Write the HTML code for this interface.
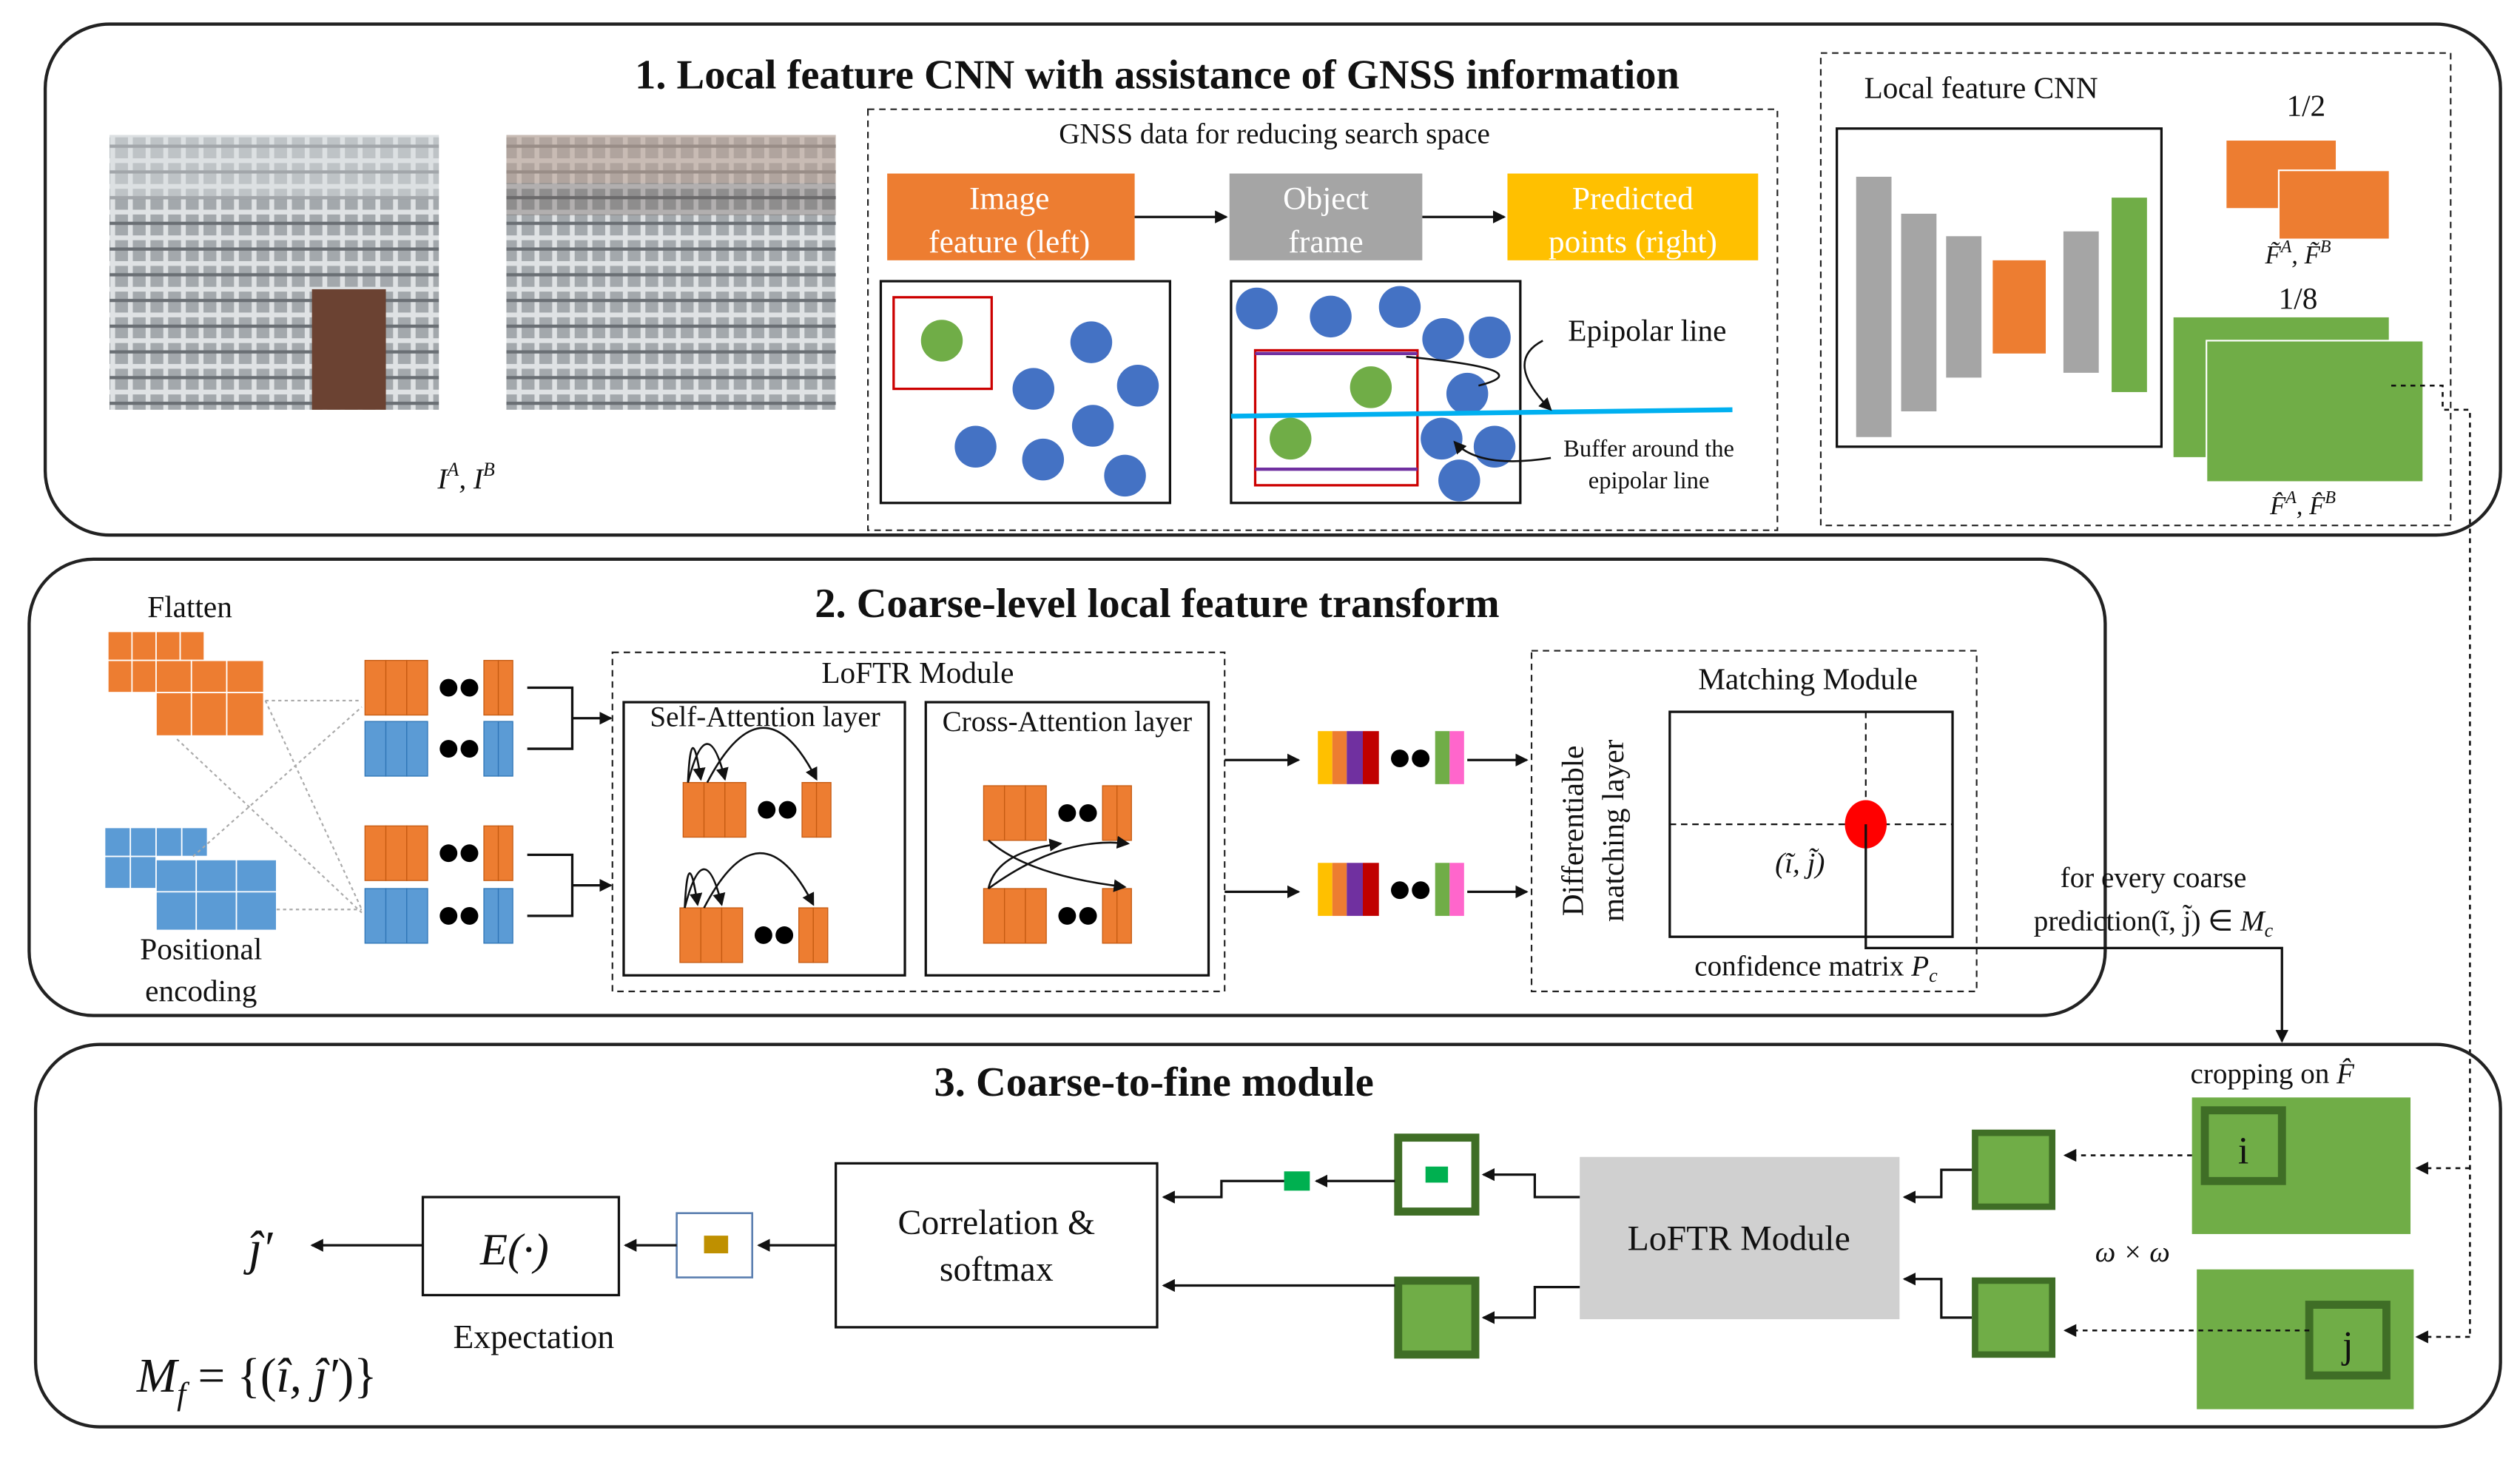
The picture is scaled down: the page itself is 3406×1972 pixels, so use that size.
<!DOCTYPE html>
<html><head><meta charset="utf-8"><style>
html,body{margin:0;padding:0;background:#fff;}
svg{display:block;}
text{font-family:"Liberation Serif",serif;fill:#111;}
</style></head><body>
<svg width="3406" height="1972" viewBox="0 0 1568 908" xmlns="http://www.w3.org/2000/svg">
<defs>
<marker id="a" markerWidth="8" markerHeight="8" refX="7" refY="4" orient="auto" markerUnits="userSpaceOnUse"><path d="M0,0 L8,4 L0,8 z" fill="#111"/></marker>
<pattern id="ph" width="22" height="16" patternUnits="userSpaceOnUse"><rect width="22" height="16" fill="#a3a8ac"/><path d="M0,4 H22 M4,0 V16 M15,0 V16" stroke="#dfe2e4" stroke-width="3"/><path d="M0,11 H22" stroke="#6a6f74" stroke-width="2"/></pattern>
<g id="seq3"><rect x="0" y="0" width="13" height="34"/><rect x="13" y="0" width="13" height="34"/><rect x="26" y="0" width="13" height="34"/><circle cx="52" cy="17" r="5.5" fill="#000" stroke="none"/><circle cx="65" cy="17" r="5.5" fill="#000" stroke="none"/><rect x="74" y="0" width="9" height="34"/><rect x="83" y="0" width="9" height="34"/></g>
</defs>

<!-- Section 1 -->
<rect x="28" y="15" width="1528" height="318" rx="40" fill="none" stroke="#222" stroke-width="2"/>
<text x="720" y="55" font-size="26" font-weight="bold" text-anchor="middle">1. Local feature CNN with assistance of GNSS information</text>
<rect x="68" y="84" width="205" height="171" fill="url(#ph)"/>
<rect x="68" y="84" width="205" height="40" fill="#d9dde0" opacity="0.5"/>
<rect x="194" y="180" width="46" height="75" fill="#6b4232"/>
<rect x="315" y="84" width="205" height="171" fill="url(#ph)"/>
<rect x="315" y="84" width="205" height="30" fill="#b9a295" opacity="0.6"/>
<rect x="315" y="114" width="205" height="20" fill="#6f6360" opacity="0.4"/>
<text x="290" y="304" font-size="18" font-style="italic" text-anchor="middle">I<tspan font-size="12" dy="-8">A</tspan><tspan dy="8">, I</tspan><tspan font-size="12" dy="-8">B</tspan></text>

<rect x="540" y="68" width="566" height="262" fill="none" stroke="#222" stroke-dasharray="4,3"/>
<text x="793" y="89" font-size="18" text-anchor="middle">GNSS data for reducing search space</text>
<rect x="552" y="108" width="154" height="54" fill="#ed7d31"/>
<text x="628" y="130" font-size="20" text-anchor="middle" style="fill:#fff">Image</text>
<text x="628" y="157" font-size="20" text-anchor="middle" style="fill:#fff">feature (left)</text>
<rect x="765" y="108" width="120" height="54" fill="#a5a5a5"/>
<text x="825" y="130" font-size="20" text-anchor="middle" style="fill:#fff">Object</text>
<text x="825" y="157" font-size="20" text-anchor="middle" style="fill:#fff">frame</text>
<rect x="938" y="108" width="156" height="54" fill="#ffc000"/>
<text x="1016" y="130" font-size="20" text-anchor="middle" style="fill:#fff">Predicted</text>
<text x="1016" y="157" font-size="20" text-anchor="middle" style="fill:#fff">points (right)</text>
<line x1="706" y1="135" x2="763" y2="135" stroke="#111" stroke-width="1.5" marker-end="url(#a)"/>
<line x1="885" y1="135" x2="936" y2="135" stroke="#111" stroke-width="1.5" marker-end="url(#a)"/>

<rect x="548" y="175" width="180" height="138" fill="#fff" stroke="#111" stroke-width="1.5"/>
<rect x="556" y="185" width="61" height="57" fill="none" stroke="#c00" stroke-width="1.5"/>
<circle cx="586" cy="212" r="13" fill="#70ad47"/>
<g fill="#4472c4"><circle cx="679" cy="213" r="13"/><circle cx="643" cy="242" r="13"/><circle cx="708" cy="240" r="13"/><circle cx="680" cy="265" r="13"/><circle cx="607" cy="278" r="13"/><circle cx="649" cy="286" r="13"/><circle cx="700" cy="296" r="13"/></g>

<rect x="766" y="175" width="180" height="138" fill="#fff" stroke="#111" stroke-width="1.5"/>
<g fill="#4472c4"><circle cx="782" cy="192" r="13"/><circle cx="828" cy="197" r="13"/><circle cx="871" cy="191" r="13"/><circle cx="898" cy="211" r="13"/><circle cx="927" cy="210" r="13"/><circle cx="913" cy="245" r="13"/><circle cx="897" cy="273" r="13"/><circle cx="930" cy="278" r="13"/><circle cx="908" cy="299" r="13"/></g>
<rect x="781" y="218" width="101" height="84" fill="none" stroke="#c00" stroke-width="1.5"/>
<line x1="781" y1="220" x2="882" y2="220" stroke="#7030a0" stroke-width="2"/>
<line x1="781" y1="292" x2="882" y2="292" stroke="#7030a0" stroke-width="2"/>
<line x1="766" y1="259" x2="1078" y2="255" stroke="#00b0f0" stroke-width="3"/>
<circle cx="853" cy="241" r="13" fill="#70ad47"/><circle cx="803" cy="273" r="13" fill="#70ad47"/>
<text x="1025" y="212" font-size="19" text-anchor="middle">Epipolar line</text>
<text x="1026" y="284" font-size="15" text-anchor="middle">Buffer around the</text>
<text x="1026" y="304" font-size="15" text-anchor="middle">epipolar line</text>
<path d="M960,212 Q935,225 965,255" fill="none" stroke="#111" stroke-width="1.2" marker-end="url(#a)"/>
<path d="M875,222 Q960,230 920,240" fill="none" stroke="#111" stroke-width="1.2"/>
<path d="M965,285 Q920,292 905,275" fill="none" stroke="#111" stroke-width="1.2" marker-end="url(#a)"/>

<rect x="1133" y="33" width="392" height="294" fill="none" stroke="#222" stroke-dasharray="4,3"/>
<text x="1160" y="61" font-size="19">Local feature CNN</text>
<rect x="1143" y="80" width="202" height="198" fill="#fff" stroke="#111" stroke-width="1.5"/>
<rect x="1155" y="110" width="22" height="162" fill="#a5a5a5"/>
<rect x="1183" y="133" width="22" height="123" fill="#a5a5a5"/>
<rect x="1211" y="147" width="22" height="88" fill="#a5a5a5"/>
<rect x="1240" y="162" width="33" height="58" fill="#ed7d31"/>
<rect x="1284" y="144" width="22" height="88" fill="#a5a5a5"/>
<rect x="1314" y="123" width="22" height="121" fill="#70ad47"/>
<text x="1435" y="72" font-size="19" text-anchor="middle">1/2</text>
<rect x="1385" y="87" width="69" height="43" fill="#ed7d31" stroke="#fff"/>
<rect x="1418" y="106" width="69" height="43" fill="#ed7d31" stroke="#fff"/>
<text x="1430" y="164" font-size="16" font-style="italic" text-anchor="middle">F̃<tspan font-size="11" dy="-7">A</tspan><tspan dy="7">, F̃</tspan><tspan font-size="11" dy="-7">B</tspan></text>
<text x="1430" y="192" font-size="19" text-anchor="middle">1/8</text>
<rect x="1352" y="197" width="135" height="88" fill="#70ad47" stroke="#fff"/>
<rect x="1373" y="212" width="135" height="88" fill="#70ad47" stroke="#fff"/>
<text x="1433" y="320" font-size="16" font-style="italic" text-anchor="middle">F̂<tspan font-size="11" dy="-7">A</tspan><tspan dy="7">, F̂</tspan><tspan font-size="11" dy="-7">B</tspan></text>
<path d="M1488,240 H1520 V255 H1537 V832" fill="none" stroke="#111" stroke-width="1.2" stroke-dasharray="3,3"/>
<line x1="1537" y1="727" x2="1504" y2="727" stroke="#111" stroke-width="1.2" stroke-dasharray="3,3" marker-end="url(#a)"/>
<line x1="1537" y1="832" x2="1504" y2="832" stroke="#111" stroke-width="1.2" stroke-dasharray="3,3" marker-end="url(#a)"/>

<!-- Section 2 -->
<rect x="18" y="348" width="1292" height="284" rx="40" fill="none" stroke="#222" stroke-width="2"/>
<text x="720" y="384" font-size="26" font-weight="bold" text-anchor="middle">2. Coarse-level local feature transform</text>
<text x="118" y="384" font-size="19" text-anchor="middle">Flatten</text>
<g fill="#ed7d31" stroke="#fff" stroke-width="0.8">
<rect x="67" y="393" width="15" height="18"/><rect x="82" y="393" width="15" height="18"/><rect x="97" y="393" width="15" height="18"/><rect x="112" y="393" width="15" height="18"/>
<rect x="67" y="411" width="15" height="20"/><rect x="82" y="411" width="15" height="20"/>
<rect x="97" y="411" width="22" height="20"/><rect x="119" y="411" width="22" height="20"/><rect x="141" y="411" width="23" height="20"/>
<rect x="97" y="431" width="22" height="27"/><rect x="119" y="431" width="22" height="27"/><rect x="141" y="431" width="23" height="27"/>
</g>
<g fill="#5b9bd5" stroke="#fff" stroke-width="0.8">
<rect x="65" y="515" width="16" height="18"/><rect x="81" y="515" width="16" height="18"/><rect x="97" y="515" width="16" height="18"/><rect x="113" y="515" width="16" height="18"/>
<rect x="65" y="533" width="16" height="20"/><rect x="81" y="533" width="16" height="20"/>
<rect x="97" y="535" width="25" height="20"/><rect x="122" y="535" width="25" height="20"/><rect x="147" y="535" width="25" height="20"/>
<rect x="97" y="555" width="25" height="24"/><rect x="122" y="555" width="25" height="24"/><rect x="147" y="555" width="25" height="24"/>
</g>
<g stroke="#aaa" stroke-dasharray="2,2" stroke-width="1">
<line x1="165" y1="436" x2="225" y2="436"/><line x1="165" y1="436" x2="225" y2="566"/><line x1="110" y1="460" x2="225" y2="568"/>
<line x1="172" y1="566" x2="225" y2="566"/><line x1="120" y1="533" x2="225" y2="440"/>
</g>
<text x="125" y="597" font-size="19" text-anchor="middle">Positional</text>
<text x="125" y="623" font-size="19" text-anchor="middle">encoding</text>
<g fill="#ed7d31" stroke="#c55a11" stroke-width="0.6"><use href="#seq3" x="227" y="411"/><use href="#seq3" x="227" y="514"/></g>
<g fill="#5b9bd5" stroke="#2e75b6" stroke-width="0.6"><use href="#seq3" x="227" y="449"/><use href="#seq3" x="227" y="553"/></g>
<g fill="none" stroke="#111" stroke-width="1.5">
<path d="M328,428 H356 V466 H328"/><path d="M328,532 H356 V570 H328"/>
</g>
<line x1="356" y1="447" x2="380" y2="447" stroke="#111" stroke-width="1.5" marker-end="url(#a)"/>
<line x1="356" y1="551" x2="380" y2="551" stroke="#111" stroke-width="1.5" marker-end="url(#a)"/>

<rect x="381" y="406" width="381" height="211" fill="none" stroke="#222" stroke-dasharray="4,3"/>
<text x="571" y="425" font-size="19" text-anchor="middle">LoFTR Module</text>
<rect x="388" y="437" width="175" height="170" fill="none" stroke="#111" stroke-width="1.5"/>
<rect x="576" y="437" width="176" height="170" fill="none" stroke="#111" stroke-width="1.5"/>
<text x="476" y="452" font-size="18" text-anchor="middle">Self-Attention layer</text>
<text x="664" y="455" font-size="18" text-anchor="middle">Cross-Attention layer</text>
<g fill="#ed7d31" stroke="#c55a11" stroke-width="0.6"><use href="#seq3" x="425" y="487"/><use href="#seq3" x="423" y="565"/><use href="#seq3" x="612" y="489"/><use href="#seq3" x="612" y="553"/></g>
<g fill="none" stroke="#111" stroke-width="1.2">
<path d="M428,487 Q430,445 436,485" marker-end="url(#a)"/><path d="M428,487 Q440,440 451,485" marker-end="url(#a)"/><path d="M440,487 Q475,420 508,485" marker-end="url(#a)"/>
<path d="M426,565 Q428,523 434,563" marker-end="url(#a)"/><path d="M426,565 Q438,518 449,563" marker-end="url(#a)"/><path d="M438,565 Q473,498 506,563" marker-end="url(#a)"/>
<path d="M615,553 Q620,530 660,525" marker-end="url(#a)"/><path d="M615,553 Q660,520 702,525" marker-end="url(#a)"/>
<path d="M615,523 Q640,545 700,552" marker-end="url(#a)"/>
</g>
<line x1="762" y1="473" x2="808" y2="473" stroke="#111" stroke-width="1.5" marker-end="url(#a)"/>
<line x1="762" y1="555" x2="808" y2="555" stroke="#111" stroke-width="1.5" marker-end="url(#a)"/>
<g id="cs">
<rect x="820" y="455" width="9" height="33" fill="#ffc000"/><rect x="829" y="455" width="9" height="33" fill="#ed7d31"/><rect x="838" y="455" width="10" height="33" fill="#7030a0"/><rect x="848" y="455" width="10" height="33" fill="#c00000"/>
<circle cx="871" cy="472" r="5.5" fill="#000"/><circle cx="884" cy="472" r="5.5" fill="#000"/>
<rect x="893" y="455" width="9" height="33" fill="#70ad47"/><rect x="902" y="455" width="9" height="33" fill="#ff66cc"/>
</g>
<use href="#cs" y="82"/>
<line x1="913" y1="473" x2="950" y2="473" stroke="#111" stroke-width="1.5" marker-end="url(#a)"/>
<line x1="913" y1="555" x2="950" y2="555" stroke="#111" stroke-width="1.5" marker-end="url(#a)"/>

<rect x="953" y="405" width="277" height="212" fill="none" stroke="#222" stroke-dasharray="4,3"/>
<text x="1125" y="429" font-size="19" text-anchor="middle">Matching Module</text>
<text transform="translate(985,517) rotate(-90)" font-size="19" text-anchor="middle">Differentiable</text>
<text transform="translate(1010,517) rotate(-90)" font-size="19" text-anchor="middle">matching layer</text>
<rect x="1039" y="443" width="176" height="140" fill="#fff" stroke="#111" stroke-width="1.5"/>
<line x1="1039" y1="513" x2="1215" y2="513" stroke="#111" stroke-dasharray="4,3"/>
<line x1="1161" y1="443" x2="1161" y2="583" stroke="#111" stroke-dasharray="4,3"/>
<ellipse cx="1161" cy="513" rx="13" ry="15" fill="#f00"/>
<text x="1120" y="543" font-size="18" text-anchor="middle" font-style="italic">(ĩ, j̃)</text>
<text x="1130" y="607" font-size="18" text-anchor="middle">confidence matrix <tspan font-style="italic">P</tspan><tspan font-size="12" dy="4" font-style="italic">c</tspan></text>
<path d="M1161,513 V590 H1420 V648" fill="none" stroke="#111" stroke-width="1.5" marker-end="url(#a)"/>
<text x="1340" y="552" font-size="18" text-anchor="middle">for every coarse</text>
<text x="1340" y="579" font-size="18" text-anchor="middle">prediction(ĩ, j̃) ∈ <tspan font-style="italic">M</tspan><tspan font-size="12" dy="4" font-style="italic">c</tspan></text>

<!-- Section 3 -->
<rect x="22" y="650" width="1534" height="238" rx="40" fill="none" stroke="#222" stroke-width="2"/>
<text x="718" y="682" font-size="26" font-weight="bold" text-anchor="middle">3. Coarse-to-fine module</text>
<text x="1414" y="674" font-size="18" text-anchor="middle">cropping on <tspan font-style="italic">F̂</tspan></text>
<rect x="1364" y="683" width="136" height="85" fill="#70ad47"/>
<rect x="1372" y="691" width="48" height="44" fill="none" stroke="#3f6e26" stroke-width="5"/>
<text x="1396" y="724" font-size="24" text-anchor="middle">i</text>
<rect x="1367" y="790" width="135" height="87" fill="#70ad47"/>
<rect x="1437" y="812" width="48" height="44" fill="none" stroke="#3f6e26" stroke-width="5"/>
<text x="1461" y="845" font-size="24" text-anchor="middle">j</text>
<text x="1327" y="785" font-size="18" text-anchor="middle" font-style="italic">ω × ω</text>
<line x1="1364" y1="719" x2="1285" y2="719" stroke="#111" stroke-width="1.2" stroke-dasharray="3,3" marker-end="url(#a)"/>
<line x1="1437" y1="828" x2="1285" y2="828" stroke="#111" stroke-width="1.2" stroke-dasharray="3,3" marker-end="url(#a)"/>
<rect x="1229" y="705" width="48" height="46" fill="#70ad47" stroke="#3f6e26" stroke-width="4"/>
<rect x="1229" y="797" width="48" height="46" fill="#70ad47" stroke="#3f6e26" stroke-width="4"/>
<path d="M1227,728 H1208 V745 H1185" fill="none" stroke="#111" stroke-width="1.5" marker-end="url(#a)"/>
<path d="M1227,820 H1208 V796 H1185" fill="none" stroke="#111" stroke-width="1.5" marker-end="url(#a)"/>
<rect x="983" y="720" width="199" height="101" fill="#d0d0d0"/>
<text x="1082" y="778" font-size="22" text-anchor="middle">LoFTR Module</text>
<rect x="870" y="708" width="48" height="46" fill="#fff" stroke="#3f6e26" stroke-width="5"/>
<rect x="887" y="726" width="14" height="10" fill="#00b050"/>
<rect x="870" y="797" width="48" height="46" fill="#70ad47" stroke="#3f6e26" stroke-width="5"/>
<path d="M983,745 H955 V731 H923" fill="none" stroke="#111" stroke-width="1.5" marker-end="url(#a)"/>
<path d="M983,801 H955 V820 H923" fill="none" stroke="#111" stroke-width="1.5" marker-end="url(#a)"/>
<rect x="799" y="729" width="16" height="12" fill="#00b050"/>
<line x1="868" y1="735" x2="819" y2="735" stroke="#111" stroke-width="1.5" marker-end="url(#a)"/>
<path d="M799,735 H760 V745 H724" fill="none" stroke="#111" stroke-width="1.5" marker-end="url(#a)"/>
<line x1="868" y1="800" x2="724" y2="800" stroke="#111" stroke-width="1.5" marker-end="url(#a)"/>
<rect x="520" y="724" width="200" height="102" fill="#fff" stroke="#111" stroke-width="1.5"/>
<text x="620" y="768" font-size="22" text-anchor="middle">Correlation &amp;</text>
<text x="620" y="797" font-size="22" text-anchor="middle">softmax</text>
<line x1="520" y1="775" x2="472" y2="775" stroke="#111" stroke-width="1.5" marker-end="url(#a)"/>
<rect x="421" y="755" width="47" height="40" fill="#fff" stroke="#5b7fb0" stroke-width="1.2"/>
<rect x="438" y="769" width="15" height="11" fill="#bf9000"/>
<line x1="421" y1="775" x2="389" y2="775" stroke="#111" stroke-width="1.5" marker-end="url(#a)"/>
<rect x="263" y="745" width="122" height="61" fill="#fff" stroke="#111" stroke-width="1.5"/>
<text x="320" y="787" font-size="28" text-anchor="middle" font-style="italic">E(·)</text>
<text x="332" y="839" font-size="21" text-anchor="middle">Expectation</text>
<line x1="263" y1="775" x2="194" y2="775" stroke="#111" stroke-width="1.5" marker-end="url(#a)"/>
<text x="162" y="787" font-size="30" text-anchor="middle" font-style="italic">ĵ′</text>
<text x="85" y="866" font-size="30" font-style="italic">M<tspan font-size="20" dy="8">f</tspan><tspan dy="-8" font-style="normal"> = {(</tspan>î, ĵ′<tspan font-style="normal">)}</tspan></text>
</svg>
</body></html>
